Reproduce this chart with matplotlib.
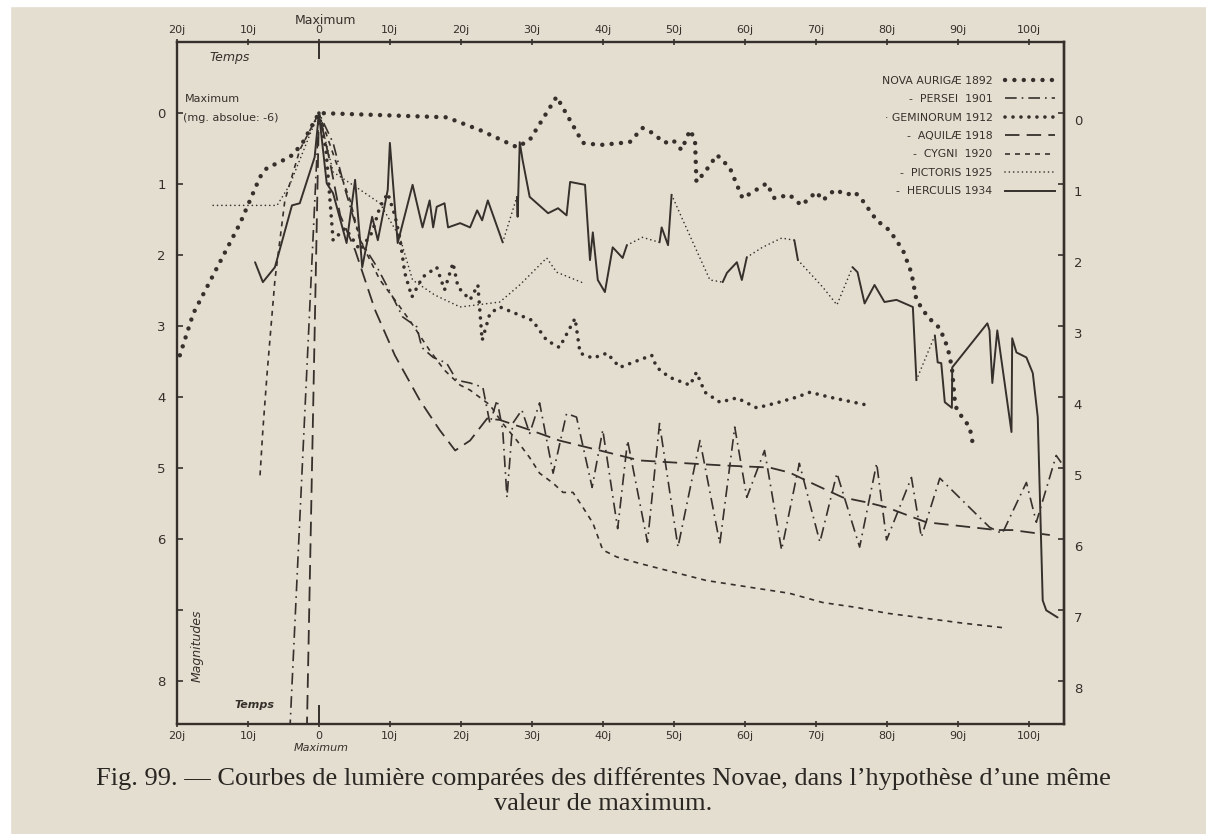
import matplotlib
matplotlib.use("Agg")
import matplotlib.pyplot as plt
from matplotlib.lines import Line2D
from matplotlib.patches import Rectangle
from matplotlib.transforms import ScaledTranslation

# ---------------- data (days from maximum, magnitude below maximum) ----------------
aur_days = [-19.6, -17.7, -11.1, -8.3, -7.3, -5.5, -3.7, -2.3, 0, 18.0, 22.7, 27.9, 29.7, 33.5,
            37.2, 39.6, 43.8, 45.6, 47.0, 48.7, 49.9, 51.1, 52.3, 53.0, 53.2, 54.4, 56.1, 57.9,
            59.7, 63.1, 64.2, 66.3, 68.0, 70.1, 71.0, 72.7, 74.4, 75.5, 76.6, 78.6, 80.4, 82.3,
            83.5, 84.2, 85.8, 87.5, 88.6, 89.2, 89.6, 89.9, 91.7, 92.1]
aur_mags = [3.41, 2.82, 1.55, 0.90, 0.77, 0.69, 0.59, 0.42, 0, 0.06, 0.24, 0.48, 0.38, -0.23,
            0.42, 0.45, 0.41, 0.21, 0.28, 0.42, 0.38, 0.52, 0.24, 0.38, 0.97, 0.83, 0.59, 0.77,
            1.20, 0.99, 1.20, 1.15, 1.30, 1.11, 1.23, 1.08, 1.15, 1.11, 1.23, 1.51, 1.65, 1.93,
            2.25, 2.63, 2.87, 3.03, 3.30, 3.58, 4.04, 4.18, 4.42, 4.63]

per_days = [-4.1, 0, 2.0, 3.7, 5.8, 8.2, 10.4, 11.8, 13.8, 14.5, 16.1, 18.0, 19.4, 21.3, 23.1,
            24.1, 25.1, 25.9, 26.5, 27.3, 28.6, 29.7, 31.1, 33.0, 34.9, 36.3, 38.5, 40.0, 42.1,
            43.5, 46.3, 48.0, 50.6, 53.7, 56.5, 58.6, 60.3, 62.8, 65.2, 67.7, 70.6, 73.0, 76.2,
            78.6, 80.0, 83.5, 84.9, 87.5, 94.5, 96.3, 99.7, 101.1, 103.9, 104.6]
per_mags = [8.7, 0, 0.42, 1.08, 1.79, 2.17, 2.59, 2.87, 3.01, 3.30, 3.44, 3.52, 3.76, 3.80, 3.86,
            4.37, 4.04, 4.46, 5.41, 4.37, 4.18, 4.51, 4.08, 5.07, 4.23, 4.28, 5.27, 4.46, 5.85,
            4.61, 6.04, 4.37, 6.11, 4.61, 6.06, 4.42, 5.41, 4.75, 6.15, 4.93, 6.04, 5.07, 6.11,
            4.93, 6.01, 5.13, 5.97, 5.14, 5.83, 5.92, 5.20, 5.76, 4.82, 4.92]

gem_days = [0, 1.0, 2.0, 3.7, 5.8, 7.5, 8.6, 9.7, 10.7, 11.4, 12.1, 13.1, 14.6, 16.6, 17.7, 18.9,
            19.6, 21.3, 22.4, 23.0, 24.1, 25.5, 30.1, 32.1, 33.9, 36.1, 36.8, 38.6, 40.6, 42.4,
            46.9, 47.6, 49.4, 52.3, 53.2, 54.4, 56.5, 58.9, 61.7, 64.5, 67.3, 69.2, 72.0, 77.2]
gem_mags = [0, 0.52, 1.79, 1.62, 1.93, 1.68, 1.32, 1.13, 1.44, 1.75, 2.25, 2.59, 2.31, 2.17, 2.49, 2.11,
            2.45, 2.63, 2.42, 3.20, 2.82, 2.73, 2.92, 3.20, 3.30, 2.89, 3.38, 3.45, 3.38, 3.58,
            3.41, 3.58, 3.72, 3.83, 3.65, 3.93, 4.07, 4.01, 4.15, 4.08, 4.00, 3.93, 4.00, 4.11]

aql_days = [-1.7, 0, 1.5, 3.0, 5.1, 7.9, 10.7, 14.2, 17.0, 19.2, 21.3, 23.7, 25.5, 29.7, 33.9, 39.6,
            45.2, 51.8, 56.9, 63.5, 66.3, 70.1, 73.8, 77.2, 80.0, 83.7, 85.6, 95.5, 97.7, 103.0]
aql_mags = [8.7, 0, 0.66, 1.44, 1.93, 2.77, 3.41, 4.04, 4.46, 4.75, 4.61, 4.30, 4.32, 4.46, 4.61, 4.75,
            4.89, 4.93, 4.96, 4.99, 5.06, 5.24, 5.41, 5.48, 5.55, 5.69, 5.76, 5.87, 5.87, 5.94]

cyg_days = [-8.3, -7.9, -7.3, -6.2, -4.8, -2.7, 0, 2.3, 4.4, 5.8, 8.6, 10.7, 12.8, 15.6, 17.7, 19.9,
            21.3, 24.1, 25.9, 27.9, 29.7, 31.1, 33.0, 34.4, 35.8, 37.2, 38.6, 40.0, 42.0, 45.2,
            49.9, 54.6, 61.7, 66.3, 71.0, 75.8, 80.0, 84.6, 90.7, 96.9]
cyg_mags = [5.10, 4.46, 3.66, 2.35, 1.23, 0.52, 0, 0.66, 1.23, 1.79, 2.35, 2.63, 2.92, 3.34, 3.62, 3.83,
            3.90, 4.11, 4.37, 4.61, 4.85, 5.07, 5.21, 5.34, 5.34, 5.55, 5.77, 6.15, 6.25, 6.34,
            6.46, 6.58, 6.69, 6.76, 6.89, 6.96, 7.04, 7.10, 7.18, 7.25]

pic_days = [-14.9, -9.7, -5.9, -4.1, -2.7, -1.3, 0, 2.0, 5.8, 8.6, 11.4, 13.2, 16.3, 19.9, 25.5,
            28.3, 32.1, 33.5, 37.2]
pic_mags = [1.30, 1.30, 1.30, 1.01, 0.66, 0.31, 0, 0.83, 1.08, 1.27, 1.75, 2.35, 2.56, 2.73, 2.66,
            2.42, 2.04, 2.24, 2.39]

her_days = [-9.0, -7.9, -6.2, -3.8, -2.7, -0.6, 0, 1.1, 2.0, 3.9, 5.1, 6.1, 7.5, 8.3, 9.7, 10.0,
            11.1, 13.2, 14.6, 15.6, 16.1, 16.6, 17.7, 18.2, 19.9, 21.3, 22.3, 23.0, 23.8, 25.9,
            27.9, 28.0, 28.3, 28.7, 29.7, 32.3, 33.7, 34.9, 35.4, 37.5, 38.2, 38.6, 39.3, 40.3,
            41.4, 42.8, 43.4, 45.6, 48.0, 48.3, 49.2, 49.7, 51.3, 55.1, 56.9, 57.5, 58.9, 59.6,
            60.3, 62.5, 65.2, 67.0, 67.5, 71.0, 73.0, 75.2, 75.9, 76.9, 78.3, 79.7, 81.4, 83.7,
            84.2, 86.8, 87.2, 87.7, 88.2, 89.2, 89.25, 94.2, 94.5, 94.9, 95.6, 97.6, 97.7, 98.3,
            99.7, 100.6, 101.3, 102.0, 102.5, 104.1]
her_mags = [2.10, 2.38, 2.17, 1.30, 1.27, 0.62, 0, 0.99, 1.13, 1.83, 0.94, 2.17, 1.46, 1.79, 1.08, 0.42,
            1.83, 1.01, 1.61, 1.23, 1.61, 1.32, 1.27, 1.61, 1.55, 1.61, 1.37, 1.51, 1.23, 1.82,
            1.18, 1.46, 0.41, 0.66, 1.18, 1.41, 1.34, 1.44, 0.97, 1.01, 2.07, 1.68, 2.35, 2.52,
            1.89, 2.04, 1.86, 1.75, 1.82, 1.61, 1.86, 1.15, 1.51, 2.35, 2.38, 2.25, 2.10, 2.35,
            2.03, 1.89, 1.76, 1.79, 2.07, 2.45, 2.70, 2.17, 2.24, 2.68, 2.42, 2.66, 2.63, 2.73,
            3.76, 3.13, 3.51, 3.52, 4.07, 4.15, 3.58, 2.96, 3.06, 3.80, 3.06, 4.49, 3.17, 3.37,
            3.44, 3.66, 4.28, 6.86, 7.00, 7.10]
# days after which Herculis curve is only interpolated (drawn dotted)
her_interp_from = [25.9, 43.4, 45.6, 49.7, 51.3, 55.1, 60.3, 62.5, 65.2, 67.5, 71.0, 73.0, 84.2]

legend_labels = ["NOVA AURIGÆ 1892", "-  PERSEI  1901", "· GEMINORUM 1912", "-  AQUILÆ 1918",
                 "-  CYGNI  1920", "-  PICTORIS 1925", "-  HERCULIS 1934"]
x_ticks = [-20, -10, 0, 10, 20, 30, 40, 50, 60, 70, 80, 90, 100]
x_ticklabels = ["20j", "10j", "0", "10j", "20j", "30j", "40j", "50j", "60j", "70j", "80j", "90j", "100j"]
y_ticks = [0, 1, 2, 3, 4, 5, 6, 7, 8]
y_left_labels = ["0", "1", "2", "3", "4", "5", "6", "", "8"]
y_right_labels = ["0", "1", "2", "3", "4", "5", "6", "7", "8"]
caption1 = "Fig. 99. — Courbes de lumière comparées des différentes Novae, dans l’hypothèse d’une même"
caption2 = "valeur de maximum."

# ---------------- styling ----------------
PAPER = "#e4ded1"
INK = "#35302b"
HAND = "DejaVu Sans"

fig = plt.figure(figsize=(12.06, 8.34), dpi=100, facecolor=PAPER)
fig.add_artist(Rectangle((0, 0.993), 1, 0.007, transform=fig.transFigure, color="white", zorder=0))
fig.add_artist(Rectangle((0, 0), 0.008, 1, transform=fig.transFigure, color="white", zorder=0))

ax = fig.add_axes([177 / 1206, 1 - 724 / 834, 887 / 1206, 682 / 834])
ax.set_facecolor(PAPER)
ax.set_xlim(-20, 105)
ax.set_ylim(8.6, -1.0)

styles = {
    "aur": dict(color=INK, lw=3.2, linestyle=(0, (0.01, 2.1)), dash_capstyle="round"),
    "per": dict(color=INK, lw=1.2, linestyle=(0, (7, 3, 1, 3))),
    "gem": dict(color=INK, lw=2.6, linestyle=(0, (0.01, 2.2)), dash_capstyle="round"),
    "aql": dict(color=INK, lw=1.3, linestyle=(0, (8, 4))),
    "cyg": dict(color=INK, lw=1.2, linestyle=(0, (3, 3))),
    "pic": dict(color=INK, lw=1.2, linestyle=(0, (0.01, 2.6)), dash_capstyle="round"),
    "her": dict(color=INK, lw=1.4, linestyle="-"),
}

ax.plot(aur_days, aur_mags, **styles["aur"])
ax.plot(gem_days, gem_mags, **styles["gem"])
ax.plot(pic_days, pic_mags, **styles["pic"])
ax.plot(per_days, per_mags, **styles["per"])
ax.plot(aql_days, aql_mags, **styles["aql"])
ax.plot(cyg_days, cyg_mags, **styles["cyg"])

# Herculis: solid where observed, fine dots where interpolated
runs = []
cur_style = None
for i in range(len(her_days) - 1):
    st = "pic" if her_days[i] in her_interp_from else "her"
    if st != cur_style:
        runs.append([st, [her_days[i]], [her_mags[i]]])
        cur_style = st
    runs[-1][1].append(her_days[i + 1])
    runs[-1][2].append(her_mags[i + 1])
for st, xs, ys in runs:
    s = dict(styles[st])
    s["solid_capstyle"] = "round"
    ax.plot(xs, ys, **s)

# ---------------- axes decoration ----------------
for sp in ax.spines.values():
    sp.set_color(INK)
    sp.set_linewidth(1.7)

ax.set_xticks(x_ticks)
ax.set_xticklabels(x_ticklabels)
ax.tick_params(axis="x", which="both", top=True, bottom=True, labeltop=True, labelbottom=True,
               direction="inout", length=4, width=1.2, color=INK, labelsize=8, labelcolor=INK, pad=3)
ax.set_yticks(y_ticks)
ax.set_yticklabels(y_left_labels)
ax.tick_params(axis="y", direction="in", length=4, width=1.2, color=INK, labelsize=9.5,
               labelcolor=INK, pad=8)
ax2 = ax.secondary_yaxis("right")
ax2.set_yticks(y_ticks)
ax2.set_yticklabels(y_right_labels)
ax2.tick_params(axis="y", direction="in", length=4, width=1.2, color=INK, labelsize=9.5,
                labelcolor=INK, pad=7)
ax2.spines["right"].set_color(INK)
ax2.spines["right"].set_linewidth(1.7)
shift = ScaledTranslation(0, -7 / 100, fig.dpi_scale_trans)
for lab in ax2.get_yticklabels():
    lab.set_transform(lab.get_transform() + shift)

# longer "maximum" marks at day 0 on the time axes
ax.plot([0, 0], [-1.0, -0.78], color=INK, lw=1.4, clip_on=False)
ax.plot([0, 0], [8.6, 8.35], color=INK, lw=1.4, clip_on=False)

txt = dict(color=INK, family=HAND)
ax.text(0.9, 1.022, "Maximum", transform=ax.get_xaxis_transform(), ha="center", va="bottom",
        fontsize=9, **txt)
ax.text(0.3, -0.028, "Maximum", transform=ax.get_xaxis_transform(), ha="center", va="top",
        fontsize=8, style="italic", **txt)
ax.text(0.037, 0.978, "Temps", transform=ax.transAxes, ha="left", va="center", fontsize=9,
        style="italic", **txt)
ax.text(0.065, 0.028, "Temps", transform=ax.transAxes, ha="left", va="center", fontsize=8,
        style="italic", weight="bold", **txt)
ax.text(0.009, 0.916, "Maximum", transform=ax.transAxes, ha="left", va="center", fontsize=8, **txt)
ax.text(0.007, 0.889, "(mg. absolue: -6)", transform=ax.transAxes, ha="left", va="center",
        fontsize=8, **txt)
ax.text(0.023, 0.115, "Magnitudes", transform=ax.transAxes, ha="center", va="center",
        fontsize=9, rotation=90, style="italic", **txt)

handles = [Line2D([], [], **styles[k]) for k in ["aur", "per", "gem", "aql", "cyg", "pic", "her"]]
leg = ax.legend(handles, legend_labels, loc="upper right", bbox_to_anchor=(0.995, 0.957),
                frameon=False, markerfirst=False, fontsize=7.8, handlelength=4.6,
                labelspacing=0.78, handletextpad=1.2, borderaxespad=0)
for t in leg.get_texts():
    t.set_color(INK)

fig.text(0.5, 0.067, caption1, ha="center", va="center", fontsize=19,
         family="Liberation Serif", color="#2a2622")
fig.text(0.5, 0.036, caption2, ha="center", va="center", fontsize=19,
         family="Liberation Serif", color="#2a2622")

fig.savefig("out.png", dpi=100, facecolor=PAPER)
